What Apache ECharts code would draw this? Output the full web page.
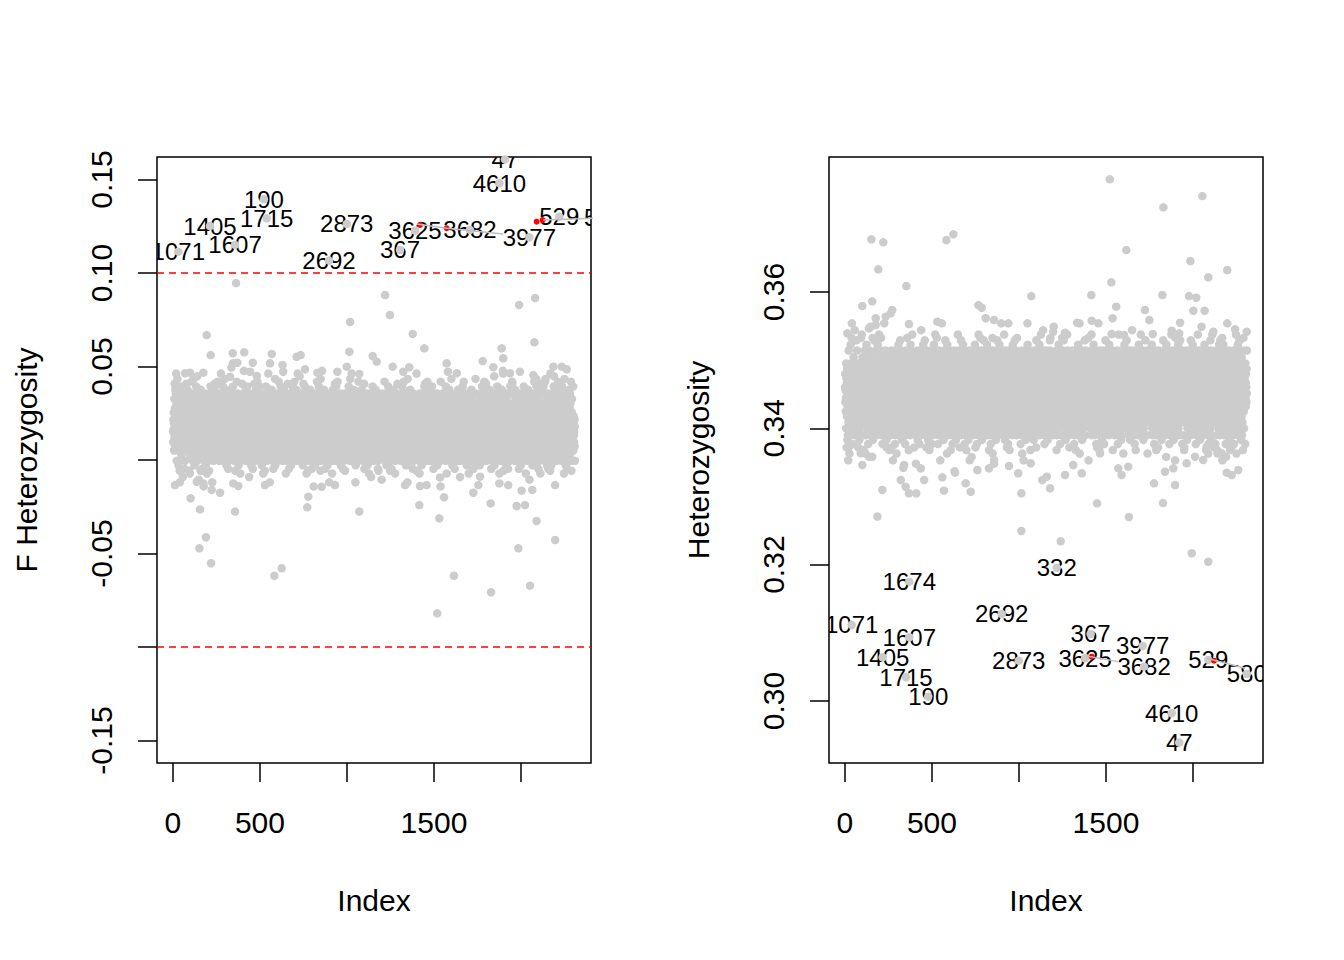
<!DOCTYPE html>
<html><head><meta charset="utf-8">
<script src="https://cdn.jsdelivr.net/npm/echarts@6/dist/echarts.min.js"></script>
<style>html,body{margin:0;padding:0;background:#fff}#main{width:1344px;height:960px}</style>
</head><body><div id="main"></div>
<script>
// ---------- DATA ----------
// Dense cloud: one code per sample (Index 1..N); each code is a bin.
const denseCodeLines = [
"hek9mjcpfs gnd7ilqe2j oafkhtdmgi jc8nepglru dkfi6mhqjb",
"lgoecjwkh9 ipdmfk5nga ehjqlcsido mk7fgpjenh cirdlo3hkf",
"bjnhgqe4mi fldoakhtjc qmg8iecnpb hjd6kofmlv aeikgcp1hn",
"dnlfjhqmr7 gickpbe5oj mhfldnxgia kbqjeho8cf pgdmi3lkjh",
"ecjnafhrgo lqkdm6biep hjgfcuokni mdaeqjlh7s fcinkgpdjb",
"jmhoe4clgk ndqifbas9p gkhlj2emco idfpnkh6qa cmejglt9bo",
"hkfdnqi8ej pbgmocl5hk eiajfnd7mq lhgkcyobjd fnmie6kpgh",
"qcjadhlrfm gkpein4bjo dmhcfq8lki ajgoen3phc kbimldfsgj",
"ephkcjm0ng ioldfqa7hk bmgjecp6dl hnkf9iqwoc jeamgdlkh8",
"fcnpiobj5k dlhemgqs9a kijfcdn7ph goeb4lmqjc hfkidape6n",
"mjgcqelkib 8hnodfpj3a ciegmkhrln fdbo6jqhpk aglcmie2dj",
"nhfkpjuogc eidlbm7qhg jakcnf5eio lpdhgmt8kb cjfeiqnodh",
"gmakjlh4fd ponicegq6j bkhdm9lfaz iecgjnk7po hlmdbfqe3i",
"kjcfoaegns dhmpil5bkq gfjencho8m laidkgp6jc ebnhqmf4ol",
"ihdjmkcg7e qnolaf2pbh jegimdkvcn h9fplqjoae mdkbgi8hcs",
"cepfjhn6lm gkaoqdi3bj hmlcenfr9k dgjpaio7mh kqbelcj5fg",
"nmidhoglxa jfkcpe8qib lhgdjmn4ec ofkaqhi6pj dmgblcertk",
"aigkdm0jhe pcnlfoq7bg kjmh5dieac nqlgfbo8hj iepkcmdu9g",
"jhbnefiklc dgmq3paoh7 fcjkienlbm shgdqpo6ia ekmjc4flhn",
"gdlohnkjaf cmiq8ebpjh ldfkmg5onc iajhepqbrk mgfcdl9ioh",
"bnkjigmpe6 hflocqadtj mkeigh2nbd pjflcoqm7a hgidkenbu8",
"eqhcjmlfok idang4bphj clkmfeq9gi dhjo7nbkpa fmlechigs5",
"kopdibgjmh nefclaq8ji gmhdk3obpe ljcfnaigwm hkdqej6cfb",
"fjmlaegkhi pcdo7nbqhj kigelmf5ad rjoncphkgb mie9dlqfj1",
"cgiknhdbpe jlmfo4aqgh ekdjcin8mo flpbhg6jka qdmcielrhf",
"hakjmc5gdi oenfqlb7jp gdhkme3iac nlojfqpbhs kgecd9mjif",
"mldgepjkia hcnfob6qgm ijdkel4hca pnmqfjbgo8 ehikldcutm",
"jdfhqcnmgk ai7ebolpjh fgkcmdi5ne qjlabhog9k ecmfidhnr2",
"nbjglkhdef pmcioa3qjh kgelfdmb8n ichjoqpaeg kdlm6fjcsh",
"goiedkjnhm b4afclqpij mgehkdo7nc lajfibhq6g edmkcp5jlo",
"hfcmjlakgd oiepnbqh8j kd9mgfclei hjnopabx4g mceikdlfjq",
"elgjhdnocm kpibfaq6jh dm3ekglicn fjhpobq7ga ikmedchljt",
"ckmhi8ejfd lnogpbaj5h ekcimgdlq9 fhjnoabk7p gemcidjhlw",
"jnaekdmhig fclo6pbqjh 4kdmgeilcn afjhopqb8g kecidmljh3",
"dgbmhlfjke ciao7npqgh jkedml5ifc bhgnoaqjt9 mkdecilhfg",
"ikjcmegdhl nf8bopajqg hkelmd6cif jnhgaobq4p ekcmidjlsh",
"fahjgklmdc ei9onpbq7h jgkemdlc5i fnhabjoqpg ekmciv8dlh",
"mchgkjdlie afn6opbqhg kjemd3licf hnjgoabq7p kemcdi2jlr",
"gjlkhcmdfe iaon8pbqjh gkdem5lcif njhboagq6k emcdijlh4s",
"hdkmcjglfi enoab7qphj kgdmelc9fi hnjbaoq5gp ekcmdjil8h",
"lkjgmhcdef ianpo6bqhg jkedmlc3fi hnbjaoqgp7 kemcdilh1j",
"cmkdjhglfe iaonp8bqhj gkemd4lcfi njhbaoqt6g kecmdijlh5",
"pqoe7ahcdk 3lmgifbjn9 hsckejdo6l gqmbaifn4h tjkdeclpg8",
"bimfqa5dhe kognlcjr2p hie8fmdkbq jlocnag6hv edikpmhfj9",
"oglacdqk7n eh4fjmbpis gdokh9clen jfamq6pbki hgdloe3cjt",
"nikfgbe8qm hjdoca5lpi kgfmej7hnb qdloci4agr hmpjkfdie6",
"cjlgehkdia"
];
const codeChars = "0123456789abcdefghijklmnopqrstuvwxyz";
// bin value of each code, F Heterozygosity panel
const fLevels = [0.04767,-0.01051,0.04623,-0.00719,0.04190,-0.00473,0.03930,0.03757,-0.00286,0.01649,
  -0.00040,0.00249,0.00509,0.00740,0.00956,0.01144,0.01331,0.01519,0.01779,0.01967,
  0.02154,0.02342,0.02544,0.02761,0.03006,0.03266,0.03555,-0.00574,0.04074,0.04334,
  -0.01195,0.04479,-0.00906,-0.01412,0.04941,0.05085];
// bin value of each code, Heterozygosity panel
const hLevels = [0.33481,0.35490,0.33530,0.35376,0.33680,0.35291,0.33770,0.33830,0.35226,0.34558,
  0.35141,0.35041,0.34952,0.34872,0.34797,0.34732,0.34667,0.34603,0.34513,0.34448,
  0.34383,0.34318,0.34249,0.34174,0.34089,0.33999,0.33899,0.35326,0.33720,0.33630,
  0.35540,0.33580,0.35440,0.35615,0.33421,0.33371];

// scattered points off the band: [Index, value]
const outliersF = [[194,0.0668],[217,0.0561],[344,0.0571],[410,0.0576],[345,0.0517],[370,0.0520],[459,0.0520],[568,0.0567],[558,0.0517],[711,0.0552],[734,0.0561],[634,0.0472],[759,0.0485],[830,0.0467],[1014,0.0579],[999,0.0499],[945,0.0472],[1071,0.0460],[1148,0.0556],[1171,0.0526],[70,0.0464],[98,0.0467],[175,0.0467],[328,0.0445],[443,0.0472],[482,0.0449],[1378,0.0674],[1445,0.0597],[2077,0.0629],[1889,0.0597],[1898,0.0544],[1780,0.0529],[1573,0.0517],[1580,0.0472],[1631,0.0464],[1263,0.0499],[1324,0.0472],[1358,0.0496],[1841,0.0496],[1896,0.0477],[1937,0.0464],[1994,0.0472],[2071,0.0454],[2186,0.0499],[2234,0.0499],[2263,0.0485],[363,0.0946],[1219,0.0882],[1247,0.0775],[1018,0.0738],[1989,0.0829],[2081,0.0866],
  [12,-0.0134],[102,-0.0205],[156,-0.0264],[223,-0.0160],[271,-0.0175],[357,-0.0276],[347,-0.0125],[376,-0.0139],[529,-0.0134],[778,-0.0196],[772,-0.0253],[855,-0.0143],[931,-0.0134],[1071,-0.0276],[137,-0.0116],[175,-0.0125],[1334,-0.0134],[1420,-0.0139],[1458,-0.0134],[1535,-0.0093],[1416,-0.0241],[1558,-0.0199],[1531,-0.0312],[1765,-0.0089],[1755,-0.0134],[1726,-0.0175],[1826,-0.0232],[1876,-0.0125],[1927,-0.0134],[2004,-0.0164],[2065,-0.0160],[1975,-0.0246],[2023,-0.0241],[2090,-0.0326],[2196,-0.0134],[190,-0.0413],[152,-0.0472],[219,-0.0552],[625,-0.0579],[583,-0.0619],[2196,-0.0428],[1985,-0.0472],[1615,-0.0619],[2052,-0.0672],[1828,-0.0707],[1519,-0.0820]];
const outliersH = [[1522,0.37652],[2054,0.37407],[1830,0.37241],[152,0.36772],[221,0.36728],[583,0.36762],[623,0.36845],[1617,0.36615],[192,0.36332],[1985,0.36454],[2197,0.36322],[2088,0.36215],[353,0.36087],[1531,0.36141],[1071,0.35940],[1416,0.35955],[1824,0.35955],[1977,0.35940],[2019,0.35916],[100,0.35794],[157,0.35863],[767,0.35808],[786,0.35769],[1559,0.35784],[1724,0.35735],[2002,0.35725],[2067,0.35725],[272,0.35735],[263,0.35687],[234,0.35637],[368,0.35530],[531,0.35564],[857,0.35588],[939,0.35540],[14,0.35393],[177,0.35515],[138,0.35467],[1335,0.35549],[1418,0.35578],[1456,0.35540],[1749,0.35588],[1926,0.35549],[2197,0.35540],[1197,0.35417],[1265,0.35402],[1533,0.35383],[1604,0.35368],[1769,0.35383],[1878,0.35432],[1921,0.35393],[2117,0.35417],[2242,0.35452],[2309,0.35417],
  [24,0.33730],[91,0.33633],[100,0.33462],[157,0.33583],[215,0.33095],[321,0.33242],[349,0.33143],[368,0.33047],[410,0.33047],[455,0.33242],[340,0.33462],[436,0.33413],[560,0.33281],[633,0.33349],[569,0.33085],[694,0.33193],[723,0.33070],[761,0.33388],[828,0.33413],[857,0.33535],[943,0.33447],[996,0.33340],[1014,0.33047],[1068,0.33487],[1134,0.33242],[1160,0.33290],[1179,0.33120],[1265,0.33315],[1312,0.33462],[1361,0.33340],[1466,0.33633],[1571,0.33413],[1590,0.33315],[1628,0.33437],[1776,0.33193],[1897,0.33168],[1839,0.33363],[1887,0.33413],[1964,0.33487],[2012,0.33583],[2059,0.33535],[2165,0.33633],[2194,0.33349],[2223,0.33315],[2260,0.33388],[2079,0.33730],[1014,0.32494],[1240,0.32343],[1449,0.32900],[1828,0.32904],[1632,0.32699],[1993,0.32167],[2088,0.32043],[187,0.32706]];

// labelled samples: [sample id, Index, value]
const labelsF = [['47',1908,0.1607],['4610',1876,0.1480],['190',523,0.1394],['1405',213,0.1251],['1715',539,0.1292],['2873',999,0.1262],['3625',1391,0.1226],['3682',1707,0.1230],['3977',2048,0.1191],['529',2220,0.1301],['580',2477,0.1294],['1071',31,0.1114],['1607',357,0.1150],['2692',897,0.1066],['367',1305,0.1123]];
const labelsH = [['1674',370,0.31750],['332',1217,0.31955],['2692',901,0.31276],['1071',39,0.31115],['1607',370,0.30935],['1405',217,0.30641],['2873',999,0.30591],['1715',351,0.30348],['190',479,0.30063],['367',1412,0.30983],['3625',1380,0.30627],['3977',1711,0.30807],['3682',1719,0.30503],['529',2088,0.30602],['580',2309,0.30396],['4610',1878,0.29820],['47',1921,0.29389]];

// highlighted (red) samples and grey links between them
const redF = [[1420,0.1257],[1573,0.1239],[2090,0.1274],[2125,0.1283]];
const redH = [[1418,0.30650],[2121,0.30591]];
const linksF = [[[1401,0.1262],[1573,0.1239],[1898,0.1208]],[[2128,0.1283],[2477,0.1294]]];
const linksH = [[[1389,0.30660],[1571,0.30577]],[[2079,0.30627],[2299,0.30480]]];

const cutoffsF = [0.1, -0.1];
const xTicks = [0, 500, 1000, 1500, 2000];
const xTickLabels = [0, 500, 1500];
const yTicksF = [-0.15, -0.10, -0.05, 0, 0.05, 0.10, 0.15];
const yTickLabelsF = [-0.15, -0.05, 0.05, 0.10, 0.15];
const yTicksH = [0.30, 0.32, 0.34, 0.36];
const yTickLabelsH = [0.30, 0.32, 0.34, 0.36];

// ---------- CHART ----------
const FONT = '"Liberation Sans", Arial, Helvetica, sans-serif';
const codes = denseCodeLines.join('').replace(/\s+/g, '').split('');
const N = codes.length;
const denseF = codes.map((c, i) => [i + 1, fLevels[codeChars.indexOf(c)]]);
const denseH = codes.map((c, i) => [i + 1, hLevels[codeChars.indexOf(c)]]);
const xMin = 1 - 0.04 * (N - 1), xMax = N + 0.04 * (N - 1);

const GREY = '#CCCCCC';
const PT = 8.5;

function xAxisDef(g) {
  return {
    type: 'value', gridIndex: g, min: xMin, max: xMax,
    axisLine: { show: false, onZero: false },
    splitLine: { show: false },
    axisTick: { show: true, length: 19, customValues: xTicks, lineStyle: { color: '#000', width: 1.5 } },
    axisLabel: { show: true, customValues: xTickLabels, margin: 44, fontSize: 30, color: '#000', fontFamily: FONT,
      formatter: v => String(Math.round(v)) }
  };
}
function yAxisDef(g, min, max, ticks, labels) {
  return {
    type: 'value', gridIndex: g, min: min, max: max,
    axisLine: { show: false, onZero: false },
    splitLine: { show: false },
    axisTick: { show: true, length: 19, customValues: ticks, lineStyle: { color: '#000', width: 1.5 } },
    axisLabel: { show: true, customValues: labels, rotate: 90, margin: 41, fontSize: 30, color: '#000', fontFamily: FONT,
      formatter: v => v.toFixed(2) }
  };
}
function scatter(g, data, color, size) {
  return { type: 'scatter', xAxisIndex: g, yAxisIndex: g, data: data, symbol: 'circle', symbolSize: size,
    itemStyle: { color: color, opacity: 1 }, silent: true, clip: true, large: false, progressive: 0 };
}
function labelSeries(g, rows) {
  return {
    type: 'custom', xAxisIndex: g, yAxisIndex: g, clip: true, silent: true,
    data: rows.map(r => [r[1], r[2]]),
    encode: { x: 0, y: 1 },
    renderItem: (params, api) => {
      const p = api.coord([api.value(0), api.value(1)]);
      return { type: 'text', x: p[0], y: p[1],
        style: { text: rows[params.dataIndex][0], fontSize: 24, fontFamily: FONT, fill: '#000', align: 'center', verticalAlign: 'middle' } };
    }
  };
}
function linkSeries(g, pts) {
  return { type: 'line', xAxisIndex: g, yAxisIndex: g, data: pts, symbol: 'none', silent: true, clip: true,
    lineStyle: { color: '#BEBEBE', width: 1.5 } };
}

const series = [
  scatter(0, denseF, GREY, PT),
  scatter(0, outliersF, GREY, PT),
  scatter(0, labelsF.map(r => [r[1], r[2]]), GREY, PT),
  ...linksF.map(l => linkSeries(0, l)),
  Object.assign(scatter(0, redF, '#FF0000', 6), {
    markLine: { silent: true, symbol: ['none', 'none'], label: { show: false },
      lineStyle: { color: '#FF0000', type: [7, 5], width: 1.5 },
      data: cutoffsF.map(v => ({ yAxis: v })) }
  }),
  labelSeries(0, labelsF),
  scatter(1, denseH, GREY, PT),
  scatter(1, outliersH, GREY, PT),
  scatter(1, labelsH.map(r => [r[1], r[2]]), GREY, PT),
  ...linksH.map(l => linkSeries(1, l)),
  scatter(1, redH, '#FF0000', 6),
  labelSeries(1, labelsH)
];

const titleStyle = { fontSize: 30, fontFamily: FONT, fill: '#000', align: 'center', verticalAlign: 'middle' };
const option = {
  animation: false,
  textStyle: { fontFamily: FONT },
  grid: [
    { left: 157, top: 157, width: 434, height: 606, show: true, borderColor: '#000', borderWidth: 1.5, backgroundColor: 'transparent' },
    { left: 829, top: 157, width: 434, height: 606, show: true, borderColor: '#000', borderWidth: 1.5, backgroundColor: 'transparent' }
  ],
  xAxis: [xAxisDef(0), xAxisDef(1)],
  yAxis: [
    yAxisDef(0, -0.162, 0.162, yTicksF, yTickLabelsF),
    yAxisDef(1, 0.2909, 0.3798, yTicksH, yTickLabelsH)
  ],
  series: series,
  graphic: [
    { type: 'text', x: 374, y: 900, style: Object.assign({ text: 'Index' }, titleStyle) },
    { type: 'text', x: 1046, y: 900, style: Object.assign({ text: 'Index' }, titleStyle) },
    { type: 'text', x: 26, y: 460, rotation: Math.PI / 2, style: Object.assign({ text: 'F Heterozygosity' }, titleStyle) },
    { type: 'text', x: 698, y: 460, rotation: Math.PI / 2, style: Object.assign({ text: 'Heterozygosity' }, titleStyle) }
  ]
};
const chart = echarts.init(document.getElementById('main'), null, { renderer: 'svg', width: 1344, height: 960 });
chart.setOption(option);
</script></body></html>
